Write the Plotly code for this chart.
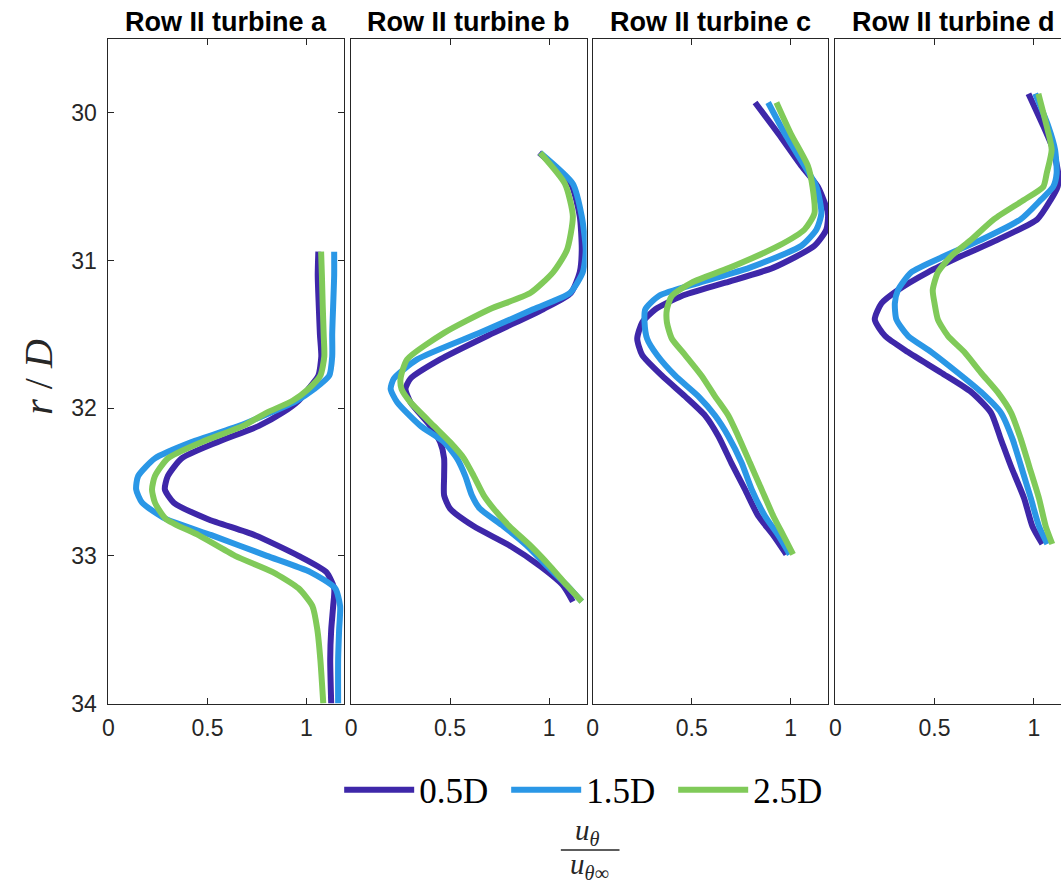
import plotly.graph_objects as go

# ---------------- data ----------------
series_names = ["0.5D", "1.5D", "2.5D"]
series_colors = ["#3E27A9", "#2A97E6", "#80CA59"]
panel_titles = ["Row II turbine a", "Row II turbine b", "Row II turbine c", "Row II turbine d"]
x_tick_vals = [0, 0.5, 1]
x_tick_text = ["0", "0.5", "1"]
y_tick_vals = [30, 31, 32, 33, 34]
y_tick_text = ["30", "31", "32", "33", "34"]

# Panel a (turbine a)
a_r = [30.94, 31.10, 31.30, 31.50, 31.65, 31.78, 31.87, 31.95, 32.03, 32.12, 32.23, 32.34,
       32.46, 32.55, 32.64, 32.75, 32.86, 33.00, 33.11, 33.22, 33.34, 33.50, 33.70, 34.00]
a_u_05 = [1.060, 1.057, 1.062, 1.068, 1.075, 1.060, 1.010, 0.960, 0.880, 0.760, 0.550, 0.370,
          0.300, 0.285, 0.330, 0.500, 0.740, 0.960, 1.100, 1.140, 1.135, 1.125, 1.120, 1.125]
a_u_15 = [1.140, 1.140, 1.135, 1.130, 1.130, 1.115, 1.040, 0.950, 0.820, 0.660, 0.420, 0.235,
          0.150, 0.140, 0.170, 0.290, 0.520, 0.800, 1.020, 1.145, 1.170, 1.165, 1.160, 1.160]
a_u_25 = [1.074, 1.078, 1.082, 1.087, 1.090, 1.070, 1.010, 0.930, 0.800, 0.680, 0.470, 0.300,
          0.235, 0.220, 0.235, 0.290, 0.455, 0.640, 0.830, 0.960, 1.030, 1.055, 1.070, 1.085]

# Panel b (turbine b)
b_r = [30.27, 30.48, 30.70, 30.93, 31.08, 31.22, 31.33, 31.49, 31.67, 31.80, 31.87, 31.96,
       32.12, 32.23, 32.34, 32.46, 32.59, 32.68, 32.80, 32.93, 33.07, 33.20, 33.31]
b_u_05 = [0.950, 1.110, 1.155, 1.165, 1.155, 1.110, 0.970, 0.720, 0.450, 0.300, 0.275, 0.300,
          0.400, 0.450, 0.470, 0.470, 0.470, 0.500, 0.620, 0.800, 0.955, 1.070, 1.120]
b_u_15 = [0.955, 1.120, 1.165, 1.185, 1.170, 1.105, 0.920, 0.650, 0.334, 0.216, 0.200, 0.233,
          0.351, 0.470, 0.535, 0.577, 0.610, 0.650, 0.770, 0.887, 0.990, 1.090, 1.165]
b_u_25 = [0.955, 1.080, 1.120, 1.090, 1.020, 0.905, 0.700, 0.470, 0.283, 0.250, 0.255, 0.300,
          0.418, 0.500, 0.570, 0.620, 0.670, 0.720, 0.800, 0.905, 1.005, 1.090, 1.165]

# Panel c (turbine c)
c_r = [29.93, 30.14, 30.36, 30.50, 30.68, 30.79, 30.90, 31.05, 31.15, 31.24, 31.33, 31.42,
       31.53, 31.64, 31.78, 31.92, 32.05, 32.19, 32.37, 32.55, 32.73, 32.86, 32.99]
c_u_05 = [0.820, 0.937, 1.054, 1.137, 1.188, 1.180, 1.120, 0.910, 0.670, 0.450, 0.317, 0.250,
          0.225, 0.250, 0.350, 0.467, 0.568, 0.635, 0.700, 0.769, 0.836, 0.912, 0.978]
c_u_15 = [0.886, 0.970, 1.070, 1.130, 1.155, 1.130, 1.054, 0.790, 0.540, 0.334, 0.266, 0.262,
          0.275, 0.325, 0.417, 0.534, 0.618, 0.685, 0.752, 0.803, 0.870, 0.937, 0.995]
c_u_25 = [0.928, 1.000, 1.087, 1.110, 1.120, 1.070, 0.940, 0.690, 0.500, 0.400, 0.375, 0.375,
          0.400, 0.467, 0.550, 0.618, 0.685, 0.735, 0.794, 0.853, 0.912, 0.962, 1.012]

# Panel d (turbine d)
d_r = [29.87, 30.09, 30.25, 30.41, 30.50, 30.59, 30.72, 30.86, 30.97, 31.08, 31.20, 31.29,
       31.40, 31.51, 31.62, 31.76, 31.89, 32.03, 32.21, 32.39, 32.61, 32.80, 32.92]
d_u_05 = [0.973, 1.048, 1.098, 1.123, 1.120, 1.085, 1.018, 0.817, 0.634, 0.466, 0.316, 0.233,
          0.199, 0.250, 0.366, 0.534, 0.684, 0.784, 0.834, 0.884, 0.951, 0.993, 1.043]
d_u_15 = [1.007, 1.073, 1.107, 1.115, 1.098, 1.035, 0.935, 0.734, 0.550, 0.383, 0.316, 0.300,
          0.308, 0.366, 0.484, 0.617, 0.734, 0.834, 0.893, 0.935, 0.985, 1.026, 1.068]
d_u_25 = [1.023, 1.065, 1.090, 1.065, 1.048, 0.950, 0.800, 0.684, 0.584, 0.517, 0.491, 0.500,
          0.517, 0.567, 0.650, 0.734, 0.817, 0.885, 0.935, 0.976, 1.026, 1.060, 1.093]

panels = [
    (a_r, [a_u_05, a_u_15, a_u_25]),
    (b_r, [b_u_05, b_u_15, b_u_25]),
    (c_r, [c_u_05, c_u_15, c_u_25]),
    (d_r, [d_u_05, d_u_15, d_u_25]),
]

# ---------------- layout geometry ----------------
W = 1061
H_REF = 893           # positions below are given in reference pixels
FIG_H = 906           # figure height (compensates the vertical fit of the capture)
panel_px = [(103, 340), (347, 584), (590, 827), (834, 1061)]
x_ranges = [[0, 1.19], [0, 1.19], [0, 1.19], [0, 1.137]]
top_px, bot_px = 39, 703.5


def fy(y_px):
    return 1 - y_px / H_REF


ydom = [fy(bot_px), fy(top_px)]

axis_col = "#262626"
serif = "Liberation Serif, Times New Roman, serif"
sans = "Liberation Sans, Arial, sans-serif"
tick_font = dict(family=sans, size=23, color=axis_col)

fig = go.Figure()

for i, (r_vals, u_sets) in enumerate(panels):
    sfx = "" if i == 0 else str(i + 1)
    for j, u_vals in enumerate(u_sets):
        fig.add_trace(go.Scatter(
            x=u_vals, y=r_vals, mode="lines",
            line=dict(color=series_colors[j], width=6, shape="spline", smoothing=0.6),
            name=series_names[j], legendgroup=series_names[j],
            showlegend=(i == 0),
            xaxis="x" + sfx, yaxis="y" + sfx,
        ))

layout = dict(
    width=W, height=FIG_H,
    margin=dict(l=0, r=0, t=0, b=0),
    paper_bgcolor="white", plot_bgcolor="white",
    showlegend=True,
    legend=dict(
        orientation="h", x=587 / W, xanchor="center", y=fy(790), yanchor="middle",
        font=dict(family=serif, size=35, color="black"),
        itemwidth=70, entrywidth=82, bgcolor="rgba(0,0,0,0)", tracegroupgap=0,
    ),
)

for i in range(4):
    sfx = "" if i == 0 else str(i + 1)
    x0, x1 = panel_px[i]
    layout["xaxis" + sfx] = dict(
        domain=[x0 / W, min(x1 / W, 1.0)], range=x_ranges[i],
        anchor="y" + sfx,
        tickmode="array", tickvals=x_tick_vals, ticktext=x_tick_text,
        ticks="inside", ticklen=6, tickcolor=axis_col, tickwidth=1,
        showline=True, linecolor=axis_col, linewidth=1, mirror="ticks",
        showgrid=False, zeroline=False, tickfont=tick_font, ticklabelstandoff=4,
    )
    ydict = dict(
        domain=ydom, range=[34, 29.5], anchor="x" + sfx,
        showline=True, linecolor=axis_col, linewidth=1,
        showgrid=False, zeroline=False, tickfont=tick_font,
    )
    if i == 0:
        ydict.update(tickmode="array", tickvals=y_tick_vals, ticktext=y_tick_text,
                     ticks="inside", ticklen=6, tickcolor=axis_col, tickwidth=1,
                     mirror="ticks", ticklabelstandoff=6)
    else:
        ydict.update(showticklabels=False, ticks="", mirror=(i < 3))
    layout["yaxis" + sfx] = ydict

annotations = []
for i in range(4):
    x0, x1 = panel_px[i]
    cx = (x0 + x1) / 2 if i < 3 else (834 + 1071) / 2
    annotations.append(dict(
        text="<b>" + panel_titles[i] + "</b>", xref="paper", yref="paper",
        x=cx / W, y=fy(22), xanchor="center", yanchor="middle", showarrow=False,
        font=dict(family=sans, size=27, color="black"),
    ))

annotations.append(dict(
    text="<i>r</i> / <i>D</i>", xref="paper", yref="paper",
    x=32 / W, y=fy(377), xanchor="center", yanchor="middle", textangle=-90,
    showarrow=False,
    font=dict(family=serif, size=40, color=axis_col),
))
annotations.append(dict(
    text="<i>u</i><sub><i>θ</i></sub>", xref="paper", yref="paper",
    x=585 / W, y=fy(832), xanchor="center", yanchor="middle", showarrow=False,
    font=dict(family=serif, size=29, color=axis_col),
))
annotations.append(dict(
    text="<i>u</i><sub><i>θ</i>∞</sub>", xref="paper", yref="paper",
    x=587 / W, y=fy(866), xanchor="center", yanchor="middle", showarrow=False,
    font=dict(family=serif, size=29, color=axis_col),
))
layout["annotations"] = annotations
layout["shapes"] = [dict(
    type="line", xref="paper", yref="paper",
    x0=558 / W, x1=617 / W, y0=fy(850), y1=fy(850),
    line=dict(color=axis_col, width=1.5),
)]

fig.update_layout(**layout)
fig.write_html(
    "out.html",
    config={"displayModeBar": False},
    post_script=(
        "document.documentElement.style.margin='0';"
        "document.documentElement.style.padding='0';"
        "document.documentElement.style.overflow='hidden';"
        "document.body.style.margin='0';"
        "document.body.style.padding='0';"
        "document.body.style.overflow='hidden';"
    ),
)
